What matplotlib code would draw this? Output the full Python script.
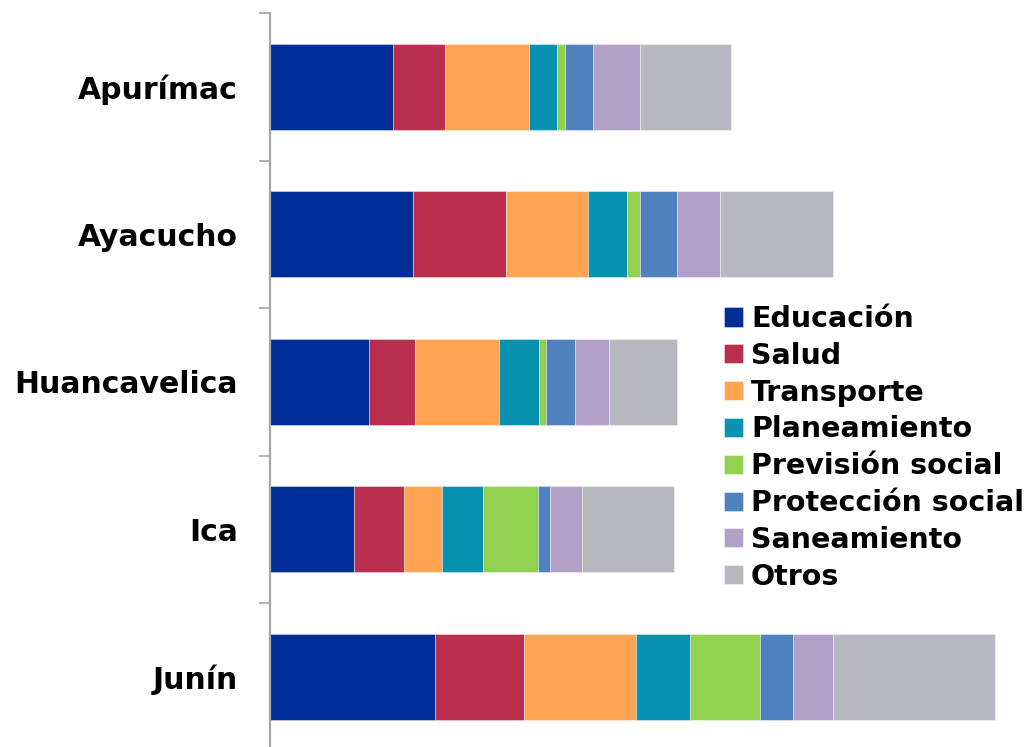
import matplotlib
matplotlib.use("Agg")
import matplotlib.pyplot as plt
import numpy as np

# regions, top to bottom
regiones = ["Apurímac", "Ayacucho", "Huancavelica", "Ica", "Junín"]

sectores = ["Educación", "Salud", "Transporte", "Planeamiento",
            "Previsión social", "Protección social", "Saneamiento", "Otros"]

# values per sector, one entry per region
educacion = [123, 143, 99, 84, 165]
salud = [52, 93, 46, 50, 89]
transporte = [84, 82, 84, 38, 112]
planeamiento = [28, 39, 40, 41, 54]
prevision = [8, 13, 7, 55, 70]
proteccion = [28, 37, 29, 12, 33]
saneamiento = [47, 43, 34, 32, 40]
otros = [91, 113, 68, 92, 162]

colores = ["#002D96", "#BA2E4E", "#FFA552", "#0992B0",
           "#92D050", "#4F81BD", "#B2A1C7", "#B7B7BF"]

series = [educacion, salud, transporte, planeamiento,
          prevision, proteccion, saneamiento, otros]

fig = plt.figure(figsize=(10.28, 7.47), dpi=100)
ax = fig.add_axes([270 / 1028, -0.0047, 758 / 1028, 0.9873])

y = np.arange(len(regiones))
left = np.zeros(len(regiones))
for vals, nombre, col in zip(series, sectores, colores):
    ax.barh(y, vals, left=left, height=0.583, color=col, label=nombre,
            edgecolor=(1, 1, 1, 0.45), linewidth=0.6)
    left += np.array(vals)

ax.set_xlim(0, 758)
ax.set_ylim(4.5, -0.5)

for s in ["top", "right", "bottom"]:
    ax.spines[s].set_visible(False)
ax.spines["left"].set_color("#A6A6A6")
ax.spines["left"].set_linewidth(1.6)
ax.set_xticks([])

ax.set_yticks(y)
ax.set_yticklabels(regiones, fontsize=21.5, fontweight="bold", family="DejaVu Sans")
ax.tick_params(axis="y", which="major", length=0, pad=23)
ax.set_yticks(np.arange(-0.5, 5, 1), minor=True)
ax.tick_params(axis="y", which="minor", length=8, width=1.2, color="#A6A6A6")

leg = ax.legend(loc="upper left", bbox_to_anchor=(724 / 1028, 1 - 305 / 747),
                bbox_transform=fig.transFigure, frameon=False,
                prop={"family": "DejaVu Sans", "weight": "bold", "size": 20.5},
                handlelength=0.65, handleheight=0.65, handletextpad=0.3,
                labelspacing=0.31, borderpad=0, borderaxespad=0)

fig.savefig("out.png", dpi=100)
